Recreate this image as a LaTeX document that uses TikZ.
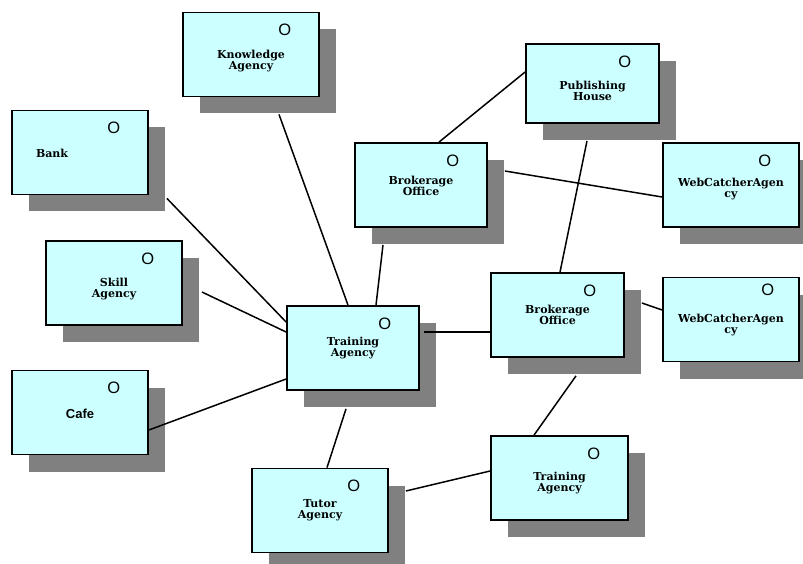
\documentclass[tikz,border=0pt]{standalone}
\usepackage{fontspec}
\setmainfont{DejaVu Serif}
\newfontfamily\markfont{Liberation Sans}
\usetikzlibrary{shadows}
\definecolor{agentfill}{HTML}{CCFFFF}
\definecolor{shadowgray}{HTML}{808080}

\begin{document}
\begin{tikzpicture}[x=1pt,y=-1pt,
  agent/.style={draw, line width=1.8pt, fill=agentfill, minimum width=136pt, minimum height=84pt,
    inner sep=0pt, align=center, font=\fontsize{11}{11}\selectfont\bfseries,
    drop shadow={shadow xshift=17pt, shadow yshift=-17pt, fill=shadowgray, opacity=1}},
  sink/.style={execute at begin node={\rule{0pt}{#1}}},
  omark/.style={font=\markfont\fontsize{16.5}{16.5}\selectfont, inner sep=0pt},
  link/.style={line width=1.5pt}]
\useasboundingbox (0,0) rectangle (803,564);

\node[agent, sink=33pt] (know) at (251,54.5) {Knowledge\\Agency};
\node[agent, sink=10pt, text width=88pt, align=left] (bank) at (80,152.5) {Bank};
\node[agent, sink=31pt] (skill) at (114,283) {Skill\\Agency};
\node[agent, sink=13pt, font=\markfont\bfseries\fontsize{13}{14}\selectfont] (cafe) at (80,412.5) {Cafe};
\node[agent, sink=34pt, minimum width=133pt, minimum height=79pt] (pub) at (592.5,83.5) {Publishing\\House};
\node[agent, sink=22pt, minimum width=132pt] (brokt) at (421,185) {Brokerage\\Office};
\node[agent, sink=27pt] (webt) at (731,185) {WebCatcherAgen\\cy};
\node[agent, minimum width=132pt] (train) at (353,348) {Training\\Agency};
\node[agent, minimum width=133pt] (brokr) at (557.5,315) {Brokerage\\Office};
\node[agent, sink=30pt] (webr) at (731,319.5) {WebCatcherAgen\\cy};
\node[agent, sink=29pt, minimum width=137pt] (trainb) at (559.5,478) {Training\\Agency};
\node[agent] (tutor) at (320,510.5) {Tutor\\Agency};

\node[omark] (knowo) at ([shift={(-35,18.5)}]know.north east) {O};
\node[omark] (banko) at ([shift={(-35,18.5)}]bank.north east) {O};
\node[omark] (skillo) at ([shift={(-35,18.5)}]skill.north east) {O};
\node[omark] (cafeo) at ([shift={(-35,18.5)}]cafe.north east) {O};
\node[omark] (pubo) at ([shift={(-35,18.5)}]pub.north east) {O};
\node[omark] (brokto) at ([shift={(-35,18.5)}]brokt.north east) {O};
\node[omark] (webto) at ([shift={(-35,18.5)}]webt.north east) {O};
\node[omark] (traino) at ([shift={(-35,18.5)}]train.north east) {O};
\node[omark] (brokro) at ([shift={(-35,18.5)}]brokr.north east) {O};
\node[omark] (webro) at ([shift={(-32,13.5)}]webr.north east) {O};
\node[omark] (trainbo) at ([shift={(-35,18.5)}]trainb.north east) {O};
\node[omark] (tutoro) at ([shift={(-35,18.5)}]tutor.north east) {O};

% links between the agencies
\draw[link] ([shift={(28,17)}]know.south) -- ([shift={(-5,0)}]train.north);
\draw[link] ([shift={(18,3)}]bank.south east) -- ([shift={(0,-26)}]train.west);
\draw[link] ([shift={(19,9)}]skill.east) -- ([shift={(0,-16)}]train.west);
\draw[link] ([shift={(0,17.5)}]cafe.east) -- ([shift={(0,31)}]train.west);
\draw[link] ([shift={(-38,17)}]brokt.south) -- ([shift={(23,0)}]train.north);
\draw[link] ([shift={(18,0)}]brokt.north) -- ([shift={(0,-11.5)}]pub.west);
\draw[link] ([shift={(17,-14)}]brokt.east) -- ([shift={(0,12)}]webt.west);
\draw[link] ([shift={(-5.5,17)}]pub.south) -- ([shift={(2.5,0)}]brokr.north);
\draw[link] ([shift={(4,-16)}]train.east) -- ([shift={(0,17)}]brokr.west);
\draw[link] ([shift={(17,-12)}]brokr.east) -- ([shift={(0,-9.5)}]webr.west);
\draw[link] ([shift={(18.5,18)}]brokr.south) -- ([shift={(-25.5,0)}]trainb.north);
\draw[link] ([shift={(-7,18)}]train.south) -- ([shift={(7,0)}]tutor.north);
\draw[link] ([shift={(17,-19.5)}]tutor.east) -- ([shift={(0,-7)}]trainb.west);
\end{tikzpicture}
\end{document}
